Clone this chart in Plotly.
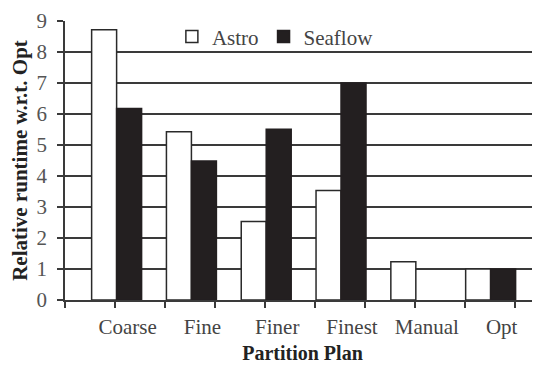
import plotly.graph_objects as go

categories = ["Coarse", "Fine", "Finer", "Finest", "Manual", "Opt"]
astro = [8.72, 5.43, 2.53, 3.53, 1.23, 1.0]
seaflow = [6.18, 4.48, 5.51, 7.0, None, 1.0]
y_ticks = [0, 1, 2, 3, 4, 5, 6, 7, 8, 9]

FONT = "Liberation Serif"
LINE = "#3a3a3a"

fig = go.Figure()
fig.add_trace(go.Bar(
    name="Astro", x=categories, y=astro,
    marker=dict(color="white", line=dict(color="#2a2a2a", width=1.5)),
))
fig.add_trace(go.Bar(
    name="Seaflow", x=categories, y=seaflow,
    marker=dict(color="#231f20", line=dict(color="#231f20", width=1.5)),
))
# invisible trace to carry the secondary x axis (tick marks every 50 px)
fig.add_trace(go.Scatter(x=[0], y=[0], xaxis="x2", mode="markers",
                         marker=dict(opacity=0), showlegend=False, hoverinfo="skip"))

fig.update_layout(
    width=540, height=366,
    margin=dict(l=57, r=8, t=9, b=74),
    paper_bgcolor="white", plot_bgcolor="white",
    barmode="group", bargap=0.332, bargroupgap=0,
    font=dict(family=FONT, color="#333333", size=21),
    showlegend=True,
    legend=dict(orientation="h", x=0.225, y=0.943, xanchor="left", yanchor="middle",
                font=dict(family=FONT, size=21, color="#444444"),
                bgcolor="rgba(0,0,0,0)", itemwidth=30, tracegroupgap=0),
    xaxis=dict(
        type="category", range=[-0.69, 5.66], automargin=False,
        showgrid=False, ticks="", showline=True, linecolor=LINE, linewidth=1.5,
        tickfont=dict(family=FONT, size=21, color="#444444"),
        ticklabelshift=11, ticklabelstandoff=7,
        title=dict(text="<b>Partition Plan</b>", font=dict(family=FONT, size=20, color="#222222"),
                   standoff=8),
    ),
    xaxis2=dict(
        overlaying="x", anchor="y", side="bottom", range=[0, 475], automargin=False,
        tick0=0, dtick=50, ticks="outside", ticklen=7, tickwidth=1.5, tickcolor=LINE,
        showticklabels=False, showgrid=False, zeroline=False, showline=False,
    ),
    yaxis=dict(
        range=[0, 9], tickvals=y_ticks, automargin=False,
        showgrid=True, gridcolor=LINE, gridwidth=1.5,
        showline=True, linecolor=LINE, linewidth=1.5,
        ticks="outside", ticklen=6, tickwidth=1.5, tickcolor=LINE,
        zeroline=False, ticklabelstandoff=6,
        tickfont=dict(family=FONT, size=21, color="#555555"),
        title=dict(text="<b>Relative runtime w.r.t. Opt</b>",
                   font=dict(family=FONT, size=21, color="#222222"), standoff=6),
    ),
)

fig.write_html("out.html")
